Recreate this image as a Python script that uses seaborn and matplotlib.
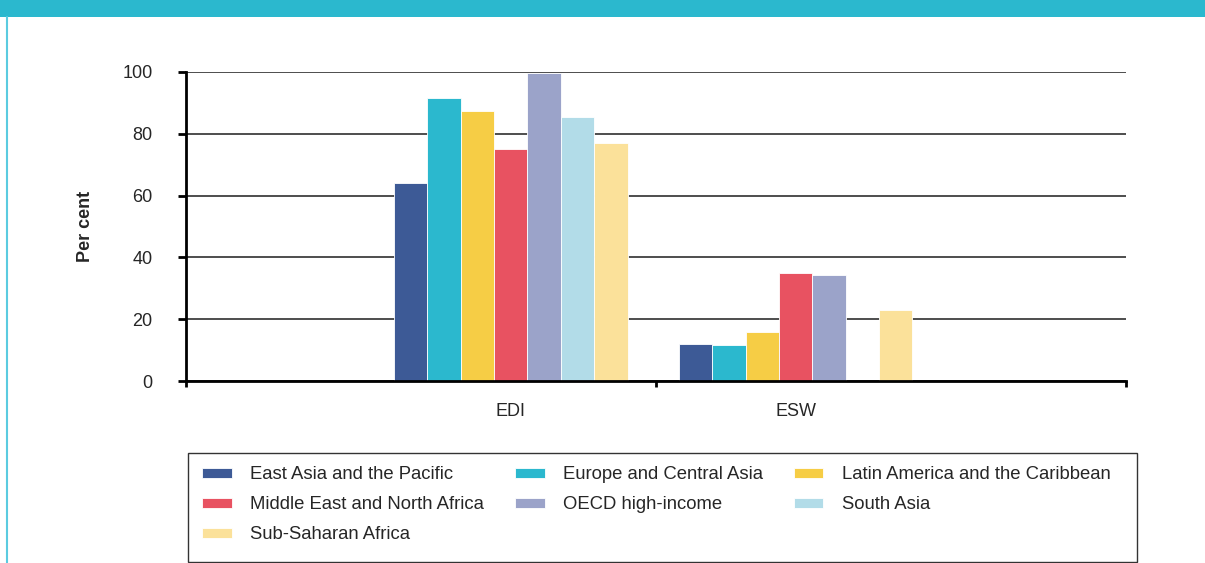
import matplotlib
matplotlib.use("Agg")
import matplotlib.pyplot as plt
from matplotlib.patches import Rectangle
from matplotlib.lines import Line2D
import numpy as np
import pandas as pd
import seaborn as sns

indicators = ["EDI", "ESW"]
regions = ["East Asia and the Pacific", "Europe and Central Asia",
           "Latin America and the Caribbean", "Middle East and North Africa",
           "OECD high-income", "South Asia", "Sub-Saharan Africa"]
edi = [64.0, 91.7, 87.4, 75.0, 99.8, 85.3, 76.9]
esw = [11.9, 11.8, 15.8, 34.9, 34.3, np.nan, 22.9]
colors = ["#3D5A96", "#2BB8CE", "#F6CD45", "#E85261", "#9BA3C9", "#B2DCE8", "#FBE19A"]

df = pd.DataFrame({
    "indicator": ["EDI"] * 7 + ["ESW"] * 7,
    "region": regions * 2,
    "value": edi + esw,
})

sns.set_style("white")
plt.rcParams["font.family"] = ["Liberation Sans", "DejaVu Sans"]

fig = plt.figure(figsize=(12.05, 5.63), dpi=100)
ax = fig.add_axes([186 / 1205, 1 - 381 / 563, 940 / 1205, 309 / 563])

sns.barplot(data=df, x="indicator", y="value", hue="region", order=indicators,
            hue_order=regions, palette=colors, saturation=1, width=0.82,
            edgecolor="white", linewidth=0.6, ax=ax, zorder=3)

handles, labels = ax.get_legend_handles_labels()
ax.get_legend().remove()

ax.set_ylim(0, 100)
ax.set_xlim(-1.14, 2.16)
ax.set_yticks([0, 20, 40, 60, 80, 100])
ax.yaxis.grid(True, color="#4d4d4d", linewidth=1.4, zorder=0)
ax.set_axisbelow(True)
ax.tick_params(axis="y", direction="out", length=6, width=2, color="black",
               pad=18, labelsize=13, left=True)
ax.tick_params(axis="x", which="major", length=0, pad=16, labelsize=13)
ax.set_xticks([-1.14, 0.51, 2.16], minor=True)
ax.tick_params(axis="x", which="minor", direction="out", length=4, width=2,
               color="black", bottom=True)
ax.set_xlabel("")
ax.set_ylabel("Per cent", fontsize=13, fontweight="bold")
ax.yaxis.set_label_coords(-0.098, 0.5)
for s in ["top", "right"]:
    ax.spines[s].set_visible(False)
for s in ["left", "bottom"]:
    ax.spines[s].set_color("black")
    ax.spines[s].set_linewidth(2)
    ax.spines[s].set_zorder(4)

# legend: reorder so that entries read row by row
order = [0, 3, 6, 1, 4, 2, 5]
top = 1 - 459 / 563
fig.legend([handles[i] for i in order], [labels[i] for i in order],
           loc="upper left", bbox_to_anchor=(195 / 1205, top - 0.1, 923 / 1205, 0.1),
           mode="expand", ncol=3, frameon=False, fontsize=13.3,
           handlelength=1.6, handleheight=0.45, handletextpad=1.0,
           labelspacing=0.7, borderaxespad=0)
fig.patches.append(Rectangle((188 / 1205, 1 - 562 / 563), 949 / 1205, 109 / 563,
                             transform=fig.transFigure, fill=False,
                             edgecolor="#333333", linewidth=1))

# page decoration
fig.patches.append(Rectangle((0, 1 - 17 / 563), 1, 17 / 563, transform=fig.transFigure,
                             facecolor="#2BB8CE", edgecolor="none"))
fig.lines.append(Line2D([7 / 1205, 7 / 1205], [0, 1 - 17 / 563], transform=fig.transFigure,
                        color="#5BCBE0", linewidth=1.5))

fig.savefig("out.png", dpi=100)
